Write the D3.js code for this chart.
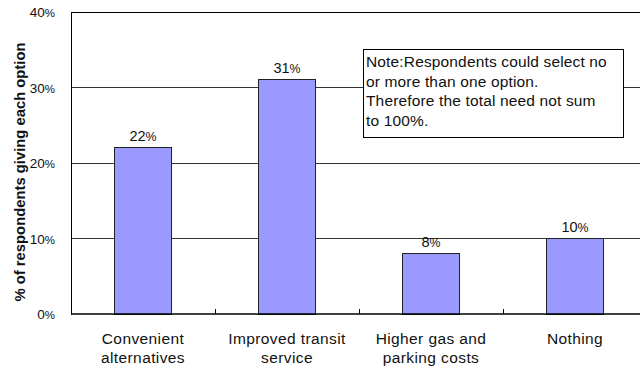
<!DOCTYPE html>
<html>
<head>
<meta charset="utf-8">
<script src="https://cdn.jsdelivr.net/npm/d3@7/dist/d3.min.js"></script>
<style>
  html, body { margin: 0; padding: 0; background: #fff; }
  svg { display: block; font-family: "Liberation Sans", Arial, sans-serif; }
</style>
</head>
<body>
<svg id="chart" width="640" height="372"></svg>
<script>
// Survey responses: what would make respondents drive less
const categories = [
  ["Convenient", "alternatives"],
  ["Improved transit", "service"],
  ["Higher gas and", "parking costs"],
  ["Nothing"]
];
const values = [22, 31, 8, 10];
const yTicks = [0, 10, 20, 30, 40];
const noteLines = [
  "Note:Respondents could select no",
  "or more than one option.",
  "Therefore the total need not sum",
  "to 100%."
];
const yLabel = "% of respondents giving each option";

const svg = d3.select("#chart");
const margin = { left: 71, top: 12, right: -7, bottom: 58 };
const W = 640, H = 372;
const x0 = margin.left, x1 = W - margin.right;
const y0 = H - margin.bottom, y1 = margin.top;

const x = d3.scaleBand()
  .domain(d3.range(categories.length))
  .range([x0, x1])
  .paddingInner(0.6)
  .paddingOuter(0.3);
const xb = d3.scaleBand().domain(d3.range(categories.length)).range([x0, x1]);
const y = d3.scaleLinear().domain([0, 40]).range([y0, y1]);

// number + narrow percent sign
function pctText(sel, v) {
  sel.append("tspan").text(v);
  sel.append("tspan")
    .style("font-family", "'Liberation Sans Narrow', 'Liberation Sans', Arial, sans-serif")
    .style("font-size", "0.85em")
    .text("%");
}

// horizontal gridlines
svg.append("g")
  .selectAll("line")
  .data(yTicks.filter(t => t > 0 && t < 40))
  .join("line")
  .attr("x1", x0).attr("x2", x1)
  .attr("y1", d => y(d)).attr("y2", d => y(d))
  .attr("stroke", "#333").attr("stroke-width", 1)
  .attr("shape-rendering", "crispEdges");

// plot frame top edge
svg.append("line")
  .attr("x1", x0).attr("x2", x1).attr("y1", y(40)).attr("y2", y(40))
  .attr("stroke", "#000").attr("shape-rendering", "crispEdges");

// y axis
const yAxis = d3.axisLeft(y)
  .tickValues(yTicks)
  .tickFormat(() => "")
  .tickSize(0)
  .tickPadding(16);
const gy = svg.append("g").attr("transform", `translate(${x0},0)`).call(yAxis);
gy.select(".domain").attr("stroke", "#000").attr("shape-rendering", "crispEdges");
gy.selectAll(".tick text")
  .attr("fill", "#111")
  .attr("dy", "0.36em")
  .style("font-size", "13.5px")
  .style("font-family", "'Liberation Sans', Arial, sans-serif")
  .each(function(d) { pctText(d3.select(this), d); });

// bars
svg.append("g")
  .selectAll("rect")
  .data(values)
  .join("rect")
  .attr("x", (d, i) => x(i))
  .attr("width", x.bandwidth())
  .attr("y", d => y(d))
  .attr("height", d => y0 - y(d))
  .attr("fill", "#9999FF")
  .attr("stroke", "#222")
  .attr("stroke-width", 1)
  .attr("shape-rendering", "crispEdges");

// value labels
svg.append("g")
  .selectAll("text")
  .data(values)
  .join("text")
  .attr("x", (d, i) => x(i) + x.bandwidth() / 2)
  .attr("y", d => y(d) - 7)
  .attr("text-anchor", "middle")
  .attr("fill", "#111")
  .style("font-size", "14.5px")
  .each(function(d) { pctText(d3.select(this), d); });

// x axis with category separator ticks
const gx = svg.append("g");
gx.append("line")
  .attr("x1", x0).attr("x2", x1).attr("y1", y0).attr("y2", y0)
  .attr("stroke", "#000").attr("stroke-width", 1.5);
gx.selectAll(".sep")
  .data(d3.range(1, categories.length))
  .join("line")
  .attr("class", "sep")
  .attr("x1", i => xb(i)).attr("x2", i => xb(i))
  .attr("y1", y0).attr("y2", y0 - 5)
  .attr("stroke", "#000").attr("shape-rendering", "crispEdges");

// category labels
const cl = gx.selectAll(".cat")
  .data(categories)
  .join("text")
  .attr("class", "cat")
  .attr("text-anchor", "middle")
  .attr("fill", "#111")
  .style("font-size", "15.5px")
  .style("letter-spacing", "0.4px")
  .attr("x", (d, i) => xb(i) + xb.bandwidth() / 2)
  .attr("y", y0 + 30);
cl.selectAll("tspan")
  .data(d => d)
  .join("tspan")
  .attr("x", function() { return this.parentNode.getAttribute("x"); })
  .attr("dy", (d, i) => i === 0 ? 0 : 19)
  .text(d => d);

// y axis title
svg.append("text")
  .attr("transform", "translate(25, 172) rotate(-90)")
  .attr("text-anchor", "middle")
  .attr("fill", "#111")
  .style("font-size", "14.8px")
  .style("font-weight", "bold")
  .text(yLabel);

// note box
const note = svg.append("g").attr("transform", "translate(363,49)");
note.append("rect")
  .attr("width", 260).attr("height", 88)
  .attr("fill", "#fff").attr("stroke", "#000")
  .attr("shape-rendering", "crispEdges");
note.selectAll("text")
  .data(noteLines)
  .join("text")
  .attr("x", 3)
  .attr("y", (d, i) => 18 + i * 19.5)
  .attr("fill", "#111")
  .style("font-size", "15.5px")
  .style("letter-spacing", "0.15px")
  .text(d => d);
</script>
</body>
</html>
